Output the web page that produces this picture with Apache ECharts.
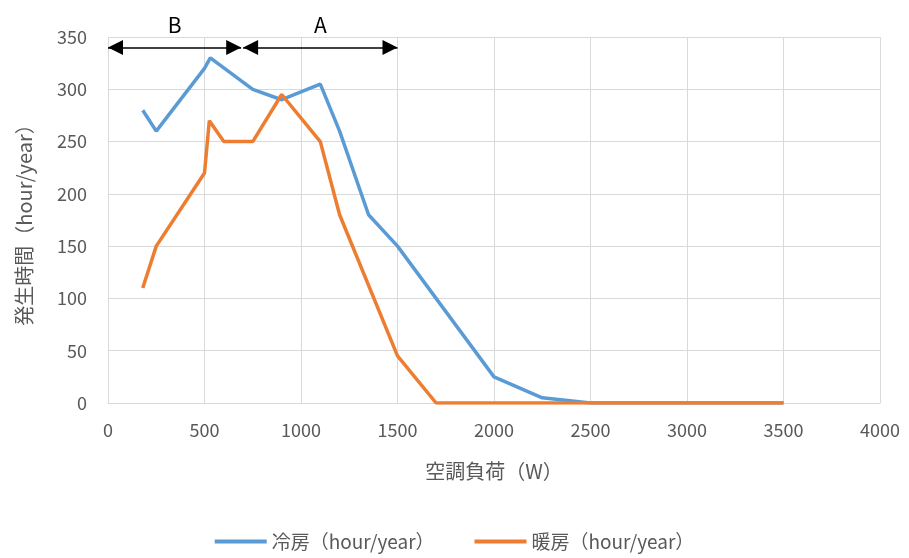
<!DOCTYPE html>
<html>
<head>
<meta charset="utf-8">
<script src="https://cdn.jsdelivr.net/npm/echarts@6/dist/echarts.min.js"></script>
<style>
  html, body { margin: 0; padding: 0; background: #fff; }
  #chart { width: 909px; height: 558px; }
</style>
</head>
<body>
<div id="chart"></div>
<script>
// Data
const coolingLoad = [180, 250, 500, 530, 750, 900, 1100, 1200, 1350, 1500, 2000, 2250, 2500, 3000, 3500];
const coolingHours = [280, 260, 320, 330, 300, 290, 305, 260, 180, 150, 25, 5, 0, 0, 0];
const heatingLoad = [180, 250, 500, 525, 600, 750, 900, 1100, 1200, 1500, 1700, 2000, 2500, 3000, 3500];
const heatingHours = [110, 150, 220, 270, 250, 250, 295, 250, 180, 45, 0, 0, 0, 0, 0];

// Range arrows at the top (label, from, to, y)
const rangeLabels = ['B', 'A'];
const rangeFrom = [0, 700];
const rangeTo = [690, 1500];
const rangeY = 340;

const textColor = '#595959';
const fontFamily = '"Noto Sans CJK JP", "Noto Sans", sans-serif';

const chart = echarts.init(document.getElementById('chart'));

const arrowLines = rangeLabels.map((lab, i) => [
    { coord: [rangeFrom[i], rangeY], name: lab },
    { coord: [rangeTo[i], rangeY] }
]);

const option = {
    animation: false,
    textStyle: { fontFamily: fontFamily },
    grid: { left: 108, right: 29, top: 37, bottom: 155 },
    legend: {
        bottom: 2,
        left: 'center',
        itemWidth: 52,
        itemHeight: 4,
        itemGap: 40,
        icon: 'rect',
        textStyle: { color: textColor, fontSize: 19, fontFamily: fontFamily },
        data: ['冷房（hour/year）', '暖房（hour/year）']
    },
    xAxis: {
        type: 'value',
        min: 0,
        max: 4000,
        interval: 500,
        name: '空調負荷（W）',
        nameLocation: 'middle',
        nameGap: 58,
        nameTextStyle: { color: textColor, fontSize: 20 },
        axisLine: { show: true, lineStyle: { color: '#D9D9D9', width: 1 } },
        axisTick: { show: false },
        axisLabel: { color: textColor, fontSize: 18, margin: 18, formatter: v => String(v) },
        splitLine: { show: true, lineStyle: { color: '#D9D9D9', width: 1 } }
    },
    yAxis: {
        type: 'value',
        min: 0,
        max: 350,
        interval: 50,
        name: '発生時間（hour/year）',
        nameLocation: 'middle',
        nameGap: 74,
        nameTextStyle: { color: textColor, fontSize: 20 },
        axisLine: { show: false },
        axisTick: { show: false },
        axisLabel: { color: textColor, fontSize: 18, margin: 21 },
        splitLine: { show: true, lineStyle: { color: '#D9D9D9', width: 1 } }
    },
    series: [
        {
            name: '冷房（hour/year）',
            type: 'line',
            data: coolingLoad.map((x, i) => [x, coolingHours[i]]),
            showSymbol: false,
            symbol: 'none',
            lineStyle: { color: '#5B9BD5', width: 3.5 },
            itemStyle: { color: '#5B9BD5' },
            markLine: {
                silent: true,
                symbol: ['triangle', 'triangle'],
                symbolSize: [15, 15],
                // one offset per end, so the tips sit on the end points
                symbolOffset: [[0, 7.5], [0, 7.5]],
                lineStyle: { color: '#000', width: 1.5, type: 'solid' },
                itemStyle: { color: '#000' },
                label: {
                    show: true,
                    position: 'insideMiddleTop',
                    formatter: p => p.name,
                    color: '#000',
                    fontSize: 21,
                    distance: 12
                },
                data: arrowLines
            }
        },
        {
            name: '暖房（hour/year）',
            type: 'line',
            data: heatingLoad.map((x, i) => [x, heatingHours[i]]),
            showSymbol: false,
            symbol: 'none',
            lineStyle: { color: '#ED7D31', width: 3.5 },
            itemStyle: { color: '#ED7D31' }
        }
    ]
};

chart.setOption(option);
</script>
</body>
</html>
